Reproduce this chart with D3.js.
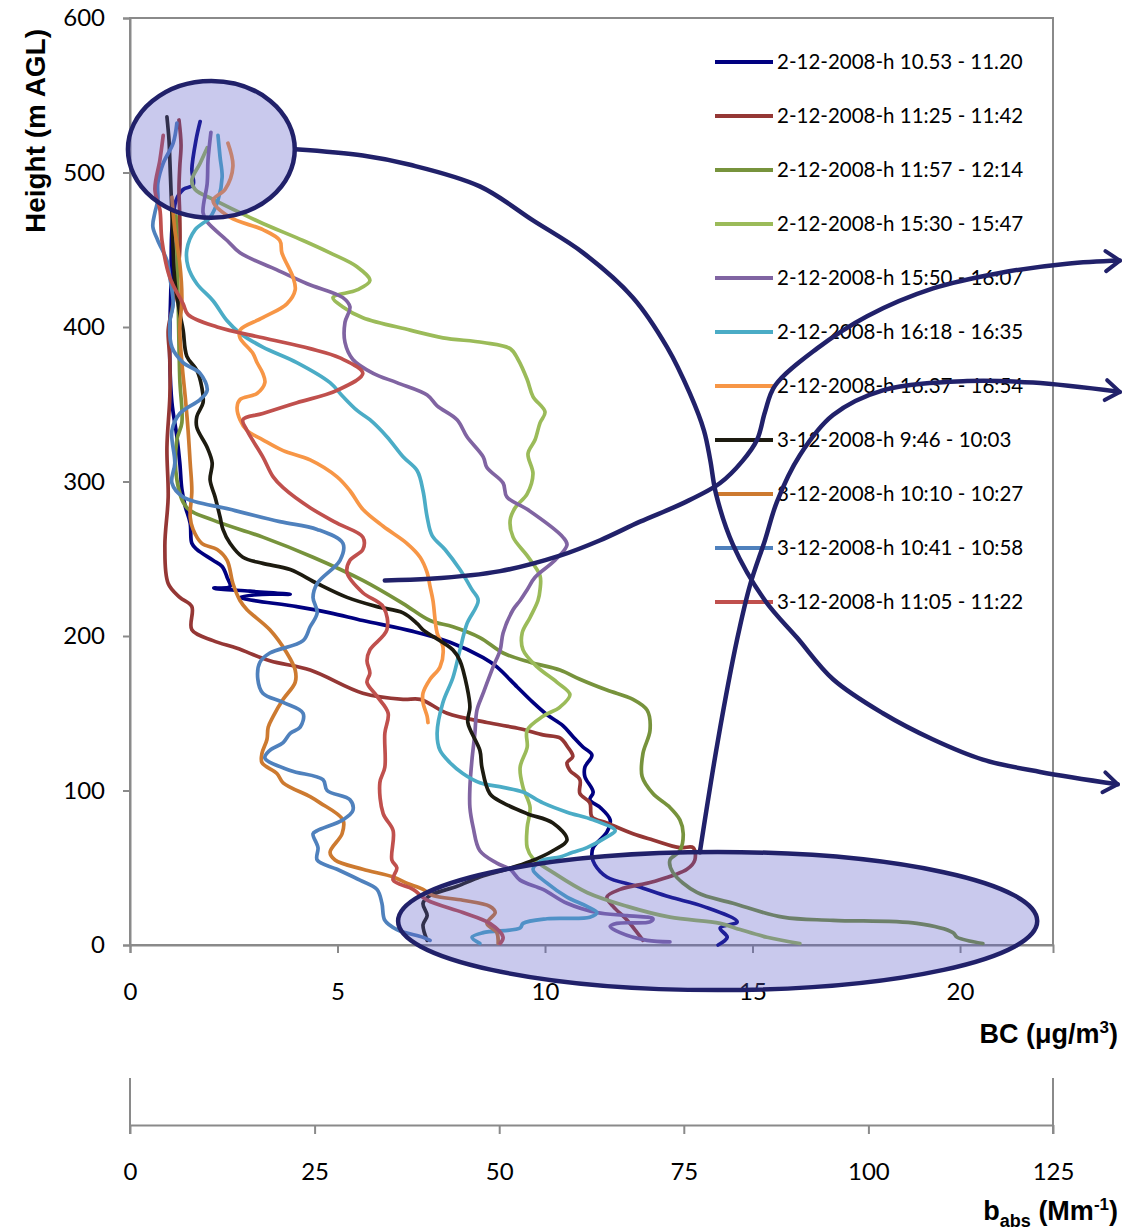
<!DOCTYPE html>
<html><head><meta charset="utf-8">
<script src="https://cdn.jsdelivr.net/npm/d3@7"></script>
<style>body{margin:0;background:#fff}</style>
</head><body>
<svg id="c" width="1123" height="1232"></svg>
<script>
// ---------- DATA ----------
const seriesLabels = [
  "2-12-2008-h 10.53 - 11.20","2-12-2008-h 11:25 - 11:42","2-12-2008-h 11:57 - 12:14",
  "2-12-2008-h 15:30 - 15:47","2-12-2008-h 15:50 - 16:07","2-12-2008-h 16:18 - 16:35",
  "2-12-2008-h 16:37 - 16:54","3-12-2008-h 9:46 - 10:03","3-12-2008-h 10:10 - 10:27",
  "3-12-2008-h 10:41 - 10:58","3-12-2008-h 11:05 - 11:22"];
const seriesColors = ["#000080","#953735","#77933C","#9BBB59","#8064A2","#4BACC6","#F79646","#1D1B10","#CD7A30","#4F81BD","#C0504D"];

// [BC (ug/m3), height (m AGL)]
const p1 = [[1.69,533],[1.59,521],[1.49,502],[1.52,492],[1.28,489],[1.11,482],[1.01,463],[0.99,430],[0.96,398],[0.96,377],[1.01,351],[1.13,329],[1.20,312],[1.25,295],[1.33,284],[1.45,273],[1.49,260],[1.61,256],[2.00,249],[2.22,245],[2.34,238],[2.41,232],[2.02,231],[2.89,229],[3.86,227],[3.18,227],[2.65,225],[4.02,219],[4.82,215],[5.61,210],[6.82,203],[7.71,196],[8.51,186],[8.84,180],[9.33,167],[9.71,157],[10.05,149],[10.43,142],[10.67,135],[10.92,128],[11.13,123],[10.96,115],[10.96,109],[11.16,99],[11.08,94],[11.33,89],[11.57,81],[11.49,73],[11.16,63],[11.13,58],[11.20,52],[11.49,44],[12.22,38],[13.01,31],[13.81,25],[14.63,15],[14.22,11],[14.39,5],[14.17,0]];
const p2 = [[1.18,534],[1.23,518],[1.20,504],[1.18,489],[1.20,471],[1.20,450],[1.13,430],[1.01,411],[0.92,398],[0.96,379],[0.96,355],[0.89,322],[0.92,290],[0.84,258],[0.92,234],[1.20,225],[1.49,219],[1.49,204],[2.00,197],[2.58,192],[3.37,184],[4.34,178],[5.61,163],[6.58,159],[6.99,159],[7.64,150],[8.60,144],[9.40,140],[9.95,136],[10.36,134],[10.55,128],[10.67,122],[10.53,118],[10.60,113],[10.84,107],[10.84,98],[11.08,92],[11.13,83],[11.49,79],[12.12,72],[12.60,68],[13.25,63],[13.57,63],[13.61,55],[13.42,49],[12.60,41],[11.81,36],[11.49,31],[11.64,25],[11.98,16],[12.22,8],[12.36,3]];
const p3 = [[1.11,472],[1.16,417],[1.20,366],[1.25,338],[1.13,327],[1.13,301],[1.37,283],[2.00,275],[3.20,264],[4.41,251],[5.61,236],[6.58,221],[7.23,210],[7.78,206],[8.43,199],[8.99,189],[9.64,183],[10.36,178],[10.84,172],[11.49,165],[12.12,159],[12.46,152],[12.53,139],[12.36,124],[12.34,109],[12.60,98],[13.01,89],[13.25,81],[13.33,72],[13.25,61],[13.01,55],[13.08,47],[13.66,34],[14.53,27],[15.73,18],[16.94,16],[18.96,14],[19.83,8],[19.93,5],[20.55,1]];
const p4 = [[1.86,516],[1.69,506],[1.49,495],[1.57,489],[2.05,482],[2.65,474],[3.20,467],[4.17,456],[4.82,448],[5.47,439],[5.78,430],[5.47,424],[4.89,419],[5.13,413],[5.61,406],[6.75,398],[7.54,393],[8.51,390],[9.16,386],[9.35,379],[9.57,366],[9.71,355],[10.00,345],[9.88,338],[9.76,327],[9.59,318],[9.71,305],[9.57,292],[9.28,283],[9.16,275],[9.23,264],[9.57,252],[9.88,239],[9.88,230],[9.83,223],[9.64,212],[9.45,202],[9.47,191],[9.81,180],[10.29,170],[10.60,162],[10.36,154],[9.95,148],[9.57,139],[9.57,128],[9.40,115],[9.47,102],[9.64,89],[9.57,76],[9.57,63],[9.71,56],[10.19,47],[11.01,34],[11.98,25],[13.01,18],[14.22,14],[14.70,10],[15.35,5],[16.14,1]];
const p5 = [[1.95,526],[1.88,508],[1.86,493],[1.76,474],[1.86,468],[2.34,456],[2.65,448],[3.54,437],[4.27,428],[5.13,419],[5.30,413],[5.18,403],[5.18,390],[5.37,379],[5.86,370],[6.43,364],[7.16,356],[7.40,349],[7.88,340],[8.12,329],[8.51,316],[8.60,309],[8.99,299],[9.08,290],[9.57,282],[10.43,264],[10.53,259],[10.24,249],[9.76,238],[9.57,230],[9.40,223],[9.23,217],[8.99,202],[8.92,191],[8.75,180],[8.51,163],[8.36,152],[8.31,137],[8.24,120],[8.19,102],[8.19,89],[8.27,76],[8.43,61],[8.84,53],[9.16,49],[9.40,42],[9.95,36],[10.53,27],[11.25,21],[11.98,19],[12.60,17],[12.53,15],[11.73,14],[11.57,12],[11.81,8],[12.46,3],[13.01,2]];
const p6 = [[2.12,524],[2.17,510],[2.22,497],[2.12,482],[1.93,471],[1.57,463],[1.37,450],[1.40,439],[1.61,428],[2.00,417],[2.34,404],[2.65,396],[3.20,387],[4.02,377],[4.82,364],[5.13,355],[5.47,346],[5.78,340],[6.19,329],[6.58,316],[6.92,307],[7.06,294],[7.16,277],[7.28,265],[7.59,256],[7.95,243],[8.24,230],[8.39,223],[8.12,208],[7.95,191],[7.78,173],[7.54,157],[7.40,137],[7.47,126],[7.71,118],[8.02,111],[8.43,105],[8.99,102],[9.47,99],[9.95,92],[10.53,86],[11.16,81],[11.69,74],[11.49,70],[11.01,63],[10.67,60],[10.36,57],[9.95,55],[9.71,49],[10.05,40],[10.53,31],[11.01,25],[11.25,21],[11.08,18],[10.05,17],[9.47,14],[9.40,11],[8.51,8],[8.24,5],[8.43,1]];
const p7 = [[2.36,519],[2.48,504],[2.29,489],[2.00,482],[2.41,471],[3.20,463],[3.61,456],[3.66,448],[3.93,432],[3.98,424],[3.78,415],[3.20,406],[2.65,398],[2.65,393],[2.96,383],[3.06,377],[3.20,370],[3.25,364],[3.06,357],[2.65,353],[2.58,348],[2.65,340],[2.82,333],[3.20,327],[3.69,320],[4.34,314],[4.99,303],[5.30,294],[5.61,282],[6.10,271],[6.67,260],[6.99,251],[7.16,241],[7.23,232],[7.30,223],[7.40,202],[7.54,193],[7.47,180],[7.23,172],[7.06,163],[7.06,157],[7.16,148],[7.18,144]];
const p8 = [[0.89,536],[0.94,521],[0.96,508],[0.99,487],[1.01,474],[1.08,430],[1.20,409],[1.28,398],[1.37,381],[1.61,372],[1.73,361],[1.76,351],[1.61,342],[1.61,335],[1.86,322],[1.98,312],[1.93,301],[2.05,290],[2.17,277],[2.24,269],[2.41,260],[2.72,251],[3.20,247],[3.86,243],[4.51,234],[5.23,225],[5.95,219],[6.58,215],[6.92,208],[7.06,204],[7.78,191],[7.95,184],[8.12,167],[8.19,154],[8.14,144],[8.43,126],[8.48,115],[8.67,98],[8.99,92],[9.57,85],[10.19,79],[10.53,68],[10.19,61],[9.64,54],[9.08,49],[8.43,44],[7.88,38],[7.23,32],[7.06,27],[7.16,19],[7.06,13],[7.16,3]];
const p9 = [[1.01,484],[1.08,463],[1.20,441],[1.25,419],[1.20,398],[1.25,377],[1.33,355],[1.40,333],[1.45,312],[1.49,294],[1.45,277],[1.52,269],[1.73,260],[2.10,256],[2.34,249],[2.48,234],[2.65,223],[2.82,217],[3.37,204],[3.78,189],[3.98,178],[3.98,170],[3.69,159],[3.45,148],[3.33,141],[3.30,133],[3.18,124],[3.18,118],[3.54,111],[3.69,105],[4.34,96],[4.58,92],[5.13,81],[5.11,72],[4.82,60],[4.94,55],[5.61,49],[6.34,44],[6.67,40],[7.06,36],[7.30,32],[8.02,29],[8.67,25],[8.80,21],[8.60,14],[8.84,8],[8.87,1]];
const p10 = [[1.13,532],[1.04,519],[0.80,506],[0.67,493],[0.67,482],[0.60,474],[0.55,465],[0.67,456],[0.89,443],[0.96,432],[1.04,415],[0.96,403],[1.01,387],[1.28,377],[1.69,370],[1.86,359],[1.69,353],[1.20,344],[1.01,333],[1.08,312],[1.01,299],[1.28,290],[2.41,282],[3.61,274],[4.51,269],[5.13,260],[5.06,249],[4.51,234],[4.41,225],[4.51,215],[4.34,206],[4.17,197],[3.37,189],[3.13,183],[3.08,172],[3.20,163],[3.69,157],[4.17,150],[4.10,141],[3.86,137],[3.69,131],[3.37,126],[3.25,121],[3.86,113],[4.65,107],[4.75,100],[5.30,94],[5.37,87],[5.13,81],[4.51,74],[4.41,72],[4.53,63],[4.51,55],[4.99,49],[5.54,42],[5.95,36],[6.07,27],[6.14,16],[6.43,10],[7.06,5],[7.23,3]];
const p11 = [[0.80,524],[0.72,508],[0.60,489],[0.72,476],[0.77,456],[0.96,432],[1.28,415],[1.40,408],[2.10,400],[3.20,393],[4.34,386],[5.06,380],[5.61,370],[4.99,359],[4.02,351],[3.20,344],[2.72,340],[2.82,333],[3.20,316],[3.45,303],[3.69,296],[4.34,283],[4.99,273],[5.61,264],[5.61,256],[5.30,249],[5.23,241],[5.61,228],[6.10,219],[6.19,204],[5.78,191],[5.71,184],[5.78,176],[5.71,170],[5.95,161],[6.22,150],[6.14,137],[6.14,115],[6.02,105],[6.10,85],[6.34,74],[6.31,55],[6.43,50],[6.34,42],[6.82,36],[7.16,29],[8.02,21],[8.67,14],[8.99,5],[8.92,1]];

const bcTicks = [0,5,10,15,20];
const heightTicks = [0,100,200,300,400,500,600];
const babsTicks = [0,25,50,75,100,125];
const bcMax = 22.24, heightMax = 600, babsMax = 125;

// Annotation shapes (data units: BC, height)
const ellipseTop = {c:[1.96,515], r:[2.01,44.3]};
const ellipseBottom = {c:[14.16,15.5], r:[7.70,44.7]};
const arrowA = [[3.98,515],[5.61,511],[6.75,505],[8.43,491],[9.71,469],[10.92,448],[12.12,419],[12.94,387],[13.49,357],[13.83,333],[13.98,314],[14.12,292],[14.53,259],[15.30,223],[16.07,199],[16.94,172],[18.14,150],[19.35,133],[20.55,120],[21.93,112],[23.80,104]];
const arrowB = [[6.14,236],[7.23,237],[8.92,242],[10.36,252],[11.33,262],[12.29,274],[13.33,286],[14.22,299],[14.75,313],[15.11,327],[15.30,345],[15.54,362],[16.55,386],[17.76,407],[19.35,425],[20.96,435],[22.58,441],[23.85,443]];
const arrowC = [[13.73,60],[14.17,133],[14.63,198],[14.94,233],[15.30,262],[15.59,287],[16.14,317],[16.94,343],[18.14,359],[20.17,365],[21.76,364],[23.85,358]];

// ---------- CHART ----------
const series = [p1,p2,p3,p4,p5,p6,p7,p8,p9,p10,p11];
const svg = d3.select('#c');
const L=130, R=1053, T=18, B=945;
const x = d3.scaleLinear().domain([0,bcMax]).range([L,R]);
const y = d3.scaleLinear().domain([0,heightMax]).range([B,T]);
const xb = d3.scaleLinear().domain([0,babsMax]).range([L,R]);
const axisCol = '#8a8a8a';
const tickFont = 'Lato, "Open Sans", sans-serif';
const titleFont = '"Liberation Sans", Arial, sans-serif';
const navy = '#21216a';

// plot frame
svg.append('rect').attr('x',L).attr('y',T).attr('width',R-L).attr('height',B-T)
  .attr('fill','none').attr('stroke',axisCol).attr('stroke-width',2);

// y axis
const gy = svg.append('g').attr('transform',`translate(${L},0)`)
  .call(d3.axisLeft(y).tickValues(heightTicks).tickSize(7).tickPadding(18).tickFormat(d3.format('d')));
// x axis BC
const gx = svg.append('g').attr('transform',`translate(0,${B})`)
  .call(d3.axisBottom(x).tickValues(bcTicks).tickSize(8).tickPadding(30).tickFormat(d3.format('d')));
// babs axis
const YB = 1125;
const gb = svg.append('g').attr('transform',`translate(0,${YB})`)
  .call(d3.axisBottom(xb).tickValues(babsTicks).tickSize(9).tickSizeOuter(0).tickPadding(29).tickFormat(d3.format('d')));
[gy,gx,gb].forEach(g=>{
  g.selectAll('.domain').attr('stroke',axisCol).attr('stroke-width',2);
  g.selectAll('.tick line').attr('stroke',axisCol).attr('stroke-width',2);
  g.selectAll('.tick text').attr('font-family',tickFont).attr('font-size',24).attr('fill','#000');
});
// long end markers of babs axis
[0,babsMax].forEach(v=>{
  svg.append('line').attr('x1',xb(v)).attr('x2',xb(v)).attr('y1',YB-47).attr('y2',YB+9)
    .attr('stroke',axisCol).attr('stroke-width',2);
});

// series lines
const line = d3.line().x(d=>x(d[0])).y(d=>y(d[1])).curve(d3.curveCatmullRom.alpha(0.5));
svg.append('g').selectAll('path').data(series).join('path')
  .attr('d',line).attr('fill','none')
  .attr('stroke',(d,i)=>seriesColors[i]).attr('stroke-width',3.7)
  .attr('stroke-linejoin','round').attr('stroke-linecap','round');

// legend
const lg = svg.append('g');
seriesLabels.forEach((lab,i)=>{
  const yy = 62 + i*54;
  lg.append('line').attr('x1',715).attr('x2',773).attr('y1',yy).attr('y2',yy)
    .attr('stroke',seriesColors[i]).attr('stroke-width',4);
  lg.append('text').attr('x',777).attr('y',yy).attr('dy','0.36em')
    .attr('font-family',tickFont).attr('font-size',20.5).attr('fill','#000').text(lab);
});

// titles
svg.append('text').attr('transform','translate(45,131) rotate(-90)').attr('text-anchor','middle')
  .attr('font-family',titleFont).attr('font-weight','bold').attr('font-size',27)
  .attr('textLength',204).attr('lengthAdjust','spacingAndGlyphs').text('Height (m AGL)');
const bt = svg.append('text').attr('x',1118).attr('y',1043).attr('text-anchor','end')
  .attr('font-family',titleFont).attr('font-weight','bold').attr('font-size',27);
bt.append('tspan').text('BC (\u03bcg/m');
bt.append('tspan').attr('font-size',17).attr('dy',-10).text('3');
bt.append('tspan').attr('dy',10).text(')');
const bb = svg.append('text').attr('x',1118).attr('y',1220).attr('text-anchor','end')
  .attr('font-family',titleFont).attr('font-weight','bold').attr('font-size',27);
bb.append('tspan').text('b');
bb.append('tspan').attr('font-size',18).attr('dy',7).text('abs');
bb.append('tspan').attr('dy',-7).text(' (Mm');
bb.append('tspan').attr('font-size',17).attr('dy',-10).text('-1');
bb.append('tspan').attr('dy',10).text(')');

// annotation ellipses
[ellipseTop, ellipseBottom].forEach(e=>{
  svg.append('ellipse').attr('cx',x(e.c[0])).attr('cy',y(e.c[1]))
    .attr('rx',x(e.c[0]+e.r[0])-x(e.c[0])).attr('ry',y(e.c[1])-y(e.c[1]+e.r[1]))
    .attr('fill','rgb(90,90,200)').attr('fill-opacity',0.33)
    .attr('stroke',navy).attr('stroke-width',4.5);
});

// arrows
svg.append('defs').append('marker').attr('id','arr').attr('viewBox','-20 -15 24 30')
  .attr('refX',0).attr('refY',0).attr('markerWidth',24).attr('markerHeight',30)
  .attr('markerUnits','userSpaceOnUse').attr('orient','auto').style('overflow','visible')
  .append('path').attr('d','M-14,-10L0,0L-14,10').attr('fill','none')
  .attr('stroke',navy).attr('stroke-width',4).attr('stroke-linecap','round').attr('stroke-linejoin','round');
const aline = d3.line().x(d=>x(d[0])).y(d=>y(d[1])).curve(d3.curveCatmullRom.alpha(0.5));
[arrowA, arrowB, arrowC].forEach(a=>{
  svg.append('path').attr('d',aline(a)).attr('fill','none').attr('stroke',navy)
    .attr('stroke-width',4.5).attr('stroke-linecap','round').attr('marker-end','url(#arr)');
});
</script>
</body></html>
